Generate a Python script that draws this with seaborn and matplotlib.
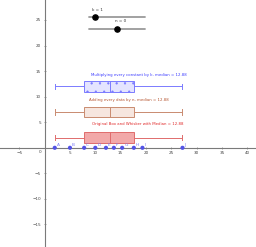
import numpy as np
import pandas as pd
import seaborn as sns
import matplotlib.pyplot as plt

# data points sitting on the x axis
point_names = list("ABCDEFGHIJ")
point_values = [2, 5, 7.8, 10, 12.1, 13.66, 15.3, 17.6, 19.3, 27.2]

# slider values and their ranges
k = 1
n = 0
k_range = (0, 10)
n_range = (-10, 10)

x_ticks = [-5, 5, 10, 15, 20, 25, 30, 35, 40]
y_ticks = [-15, -10, -5, 5, 10, 15, 20, 25]


def five_number(values):
    """min, Q1, median, Q3, max (quartiles = medians of the two halves)"""
    v = np.sort(np.asarray(values, dtype=float))
    half = len(v) // 2
    return [v[0], np.median(v[:half]), np.median(v), np.median(v[-half:]), v[-1]]


def draw_box(ax, values, level, fill, edge, hatch=None):
    # feeding the five numbers makes the drawn box match them exactly
    df = pd.DataFrame({"x": five_number(values), "y": level})
    before = len(ax.patches)
    sns.boxplot(data=df, x="x", y="y", orient="y", native_scale=True,
                whis=(0, 100), width=2, color=fill, linecolor=edge,
                linewidth=0.7, saturation=1, ax=ax)
    for p in ax.patches[before:]:
        if hatch:
            p.set_hatch(hatch)


def draw_slider(ax, label, value, vrange, x0, x1, y):
    ax.plot([x0, x1], [y, y], color="#9a9a9a", lw=1.3, solid_capstyle="round")
    xp = x0 + (value - vrange[0]) / (vrange[1] - vrange[0]) * (x1 - x0)
    ax.scatter([xp], [y], s=14, color="black", zorder=5)
    ax.text(xp + 0.6, y + 1.1, f"{label} = {value}", fontsize=3.0,
            color="#333333", ha="center", va="bottom")


fig = plt.figure(figsize=(2.56, 2.47), dpi=100)
ax = fig.add_axes([0, 0, 1, 1])
plt.rcParams["hatch.linewidth"] = 0.4

original = np.array(point_values)
added = original + n
multiplied = original * k

plt.rcParams["hatch.color"] = "#7b7bff"
draw_box(ax, multiplied, 12, "#e4e4ff", "#7b7bff", hatch="..")
draw_box(ax, added, 7, "#f6e6df", "#c98b70")
draw_box(ax, original, 2, "#f2a9a9", "#e06c6c")

ax.text(18.6, 14.2, f"Multiplying every constant by k, median = {np.median(multiplied):.2f}",
        fontsize=2.8, color="#3c3cff", ha="center", va="center")
ax.text(16.7, 9.3, f"Adding every data by n, median = {np.median(added):.2f}",
        fontsize=2.8, color="#b5532e", ha="center", va="center")
ax.text(18.3, 4.7, f"Original Box and Whisker with Median = {np.median(original):.2f}",
        fontsize=2.8, color="#e02828", ha="center", va="center")

# points on the axis
sns.scatterplot(x=point_values, y=[0] * len(point_values), s=9, color="#5252e6",
                edgecolor="none", zorder=6, ax=ax, legend=False)
for name, v in zip(point_names, point_values):
    ax.annotate(name, (v, 0), xytext=(1.5, 1.5), textcoords="offset points",
                fontsize=3.2, color="#7c7cf5", zorder=6)

draw_slider(ax, "k", k, k_range, 8.8, 19.8, 25.5)
draw_slider(ax, "n", n, n_range, 8.8, 19.8, 23.3)

# axes through the origin
ax.set_xlim(-8.8, 41.7)
ax.set_ylim(-19.4, 28.9)
for side in ["top", "right"]:
    ax.spines[side].set_visible(False)
ax.spines["left"].set_position(("data", 0))
ax.spines["bottom"].set_position(("data", 0))
for side in ["left", "bottom"]:
    ax.spines[side].set_color("#7a7a7a")
    ax.spines[side].set_linewidth(0.8)
ax.set_xticks(x_ticks)
ax.set_yticks(y_ticks)
ax.set_xlabel("")
ax.set_ylabel("")
ax.tick_params(direction="inout", length=2, width=0.5, labelsize=3,
               labelcolor="#444444", color="#7a7a7a", pad=1.5)
ax.annotate("0", (0, 0), xytext=(-2, -1.5), textcoords="offset points",
            ha="right", va="top", fontsize=3, color="#444444")

plt.savefig("out.png", dpi=100)
